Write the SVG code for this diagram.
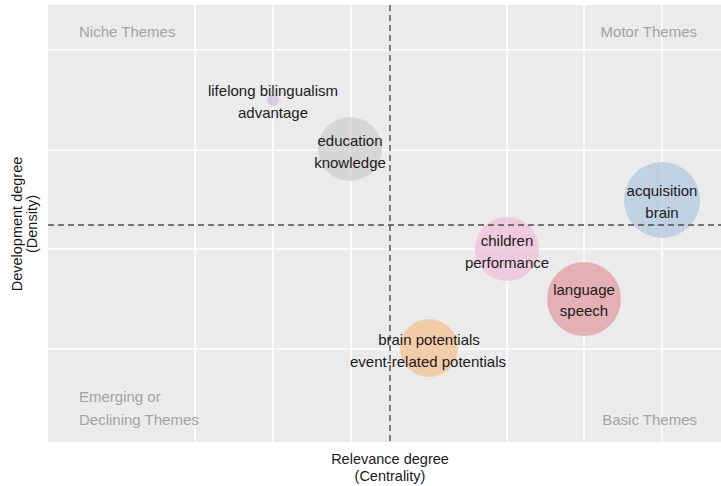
<svg xmlns="http://www.w3.org/2000/svg" width="721" height="486" viewBox="0 0 721 486">
<style>
.grid{stroke:#ffffff;stroke-width:1.5;fill:none}
.ref{stroke:#4d4d4d;stroke-width:1.4;stroke-dasharray:6 4;fill:none}
.lbl{font-family:"Liberation Sans",Arial,sans-serif;font-size:15px;fill:#1a1a1a;text-anchor:middle}
.quad{font-family:"Liberation Sans",Arial,sans-serif;font-size:15px;fill:#a3a3a3}
.axis{font-family:"Liberation Sans",Arial,sans-serif;font-size:14.5px;fill:#1a1a1a;text-anchor:middle}
.bub{fill-opacity:0.85}
</style>
<rect width="721" height="486" fill="#ffffff"/>
<rect x="48" y="5" width="673" height="437" fill="#ebebeb"/>
<g id="grid">
<line class="grid" x1="48" y1="50" x2="721" y2="50"/>
<line class="grid" x1="48" y1="150" x2="721" y2="150"/>
<line class="grid" x1="48" y1="249" x2="721" y2="249"/>
<line class="grid" x1="48" y1="349" x2="721" y2="349"/>
<line class="grid" x1="195" y1="5" x2="195" y2="442"/>
<line class="grid" x1="273" y1="5" x2="273" y2="442"/>
<line class="grid" x1="351" y1="5" x2="351" y2="442"/>
<line class="grid" x1="507" y1="5" x2="507" y2="442"/>
<line class="grid" x1="584" y1="5" x2="584" y2="442"/>
<line class="grid" x1="662" y1="5" x2="662" y2="442"/>
</g>
<g id="quadrant-labels">
<text class="quad" x="79" y="37">Niche Themes</text>
<text class="quad" x="697" y="37" text-anchor="end">Motor Themes</text>
<text class="quad" x="79" y="402">Emerging or</text>
<text class="quad" x="79" y="425">Declining Themes</text>
<text class="quad" x="697" y="425" text-anchor="end">Basic Themes</text>
</g>
<g id="node-lifelong">
<circle class="bub" cx="273" cy="100" r="6" fill="#d6c4e0"/>
</g>
<g id="node-education">
<circle class="bub" cx="350" cy="149" r="32" fill="#d2d2d2"/>
</g>
<g id="node-acquisition">
<circle class="bub" cx="662" cy="200" r="38" fill="#b9cde0"/>
</g>
<g id="node-children">
<circle class="bub" cx="507" cy="249" r="32" fill="#efc4dc"/>
</g>
<g id="node-language">
<circle class="bub" cx="584" cy="299" r="37" fill="#e3a6ac"/>
</g>
<g id="node-brain-potentials">
<circle class="bub" cx="429" cy="348" r="29" fill="#f3c79c"/>
</g>
<g id="connectors">
<line class="ref" x1="48" y1="225" x2="721" y2="225"/>
<line class="ref" x1="390" y1="5" x2="390" y2="442"/>
</g>
<g id="node-labels">
<text class="lbl" x="273" y="96">lifelong bilingualism</text>
<text class="lbl" x="273" y="118">advantage</text>
<text class="lbl" x="350" y="146">education</text>
<text class="lbl" x="350" y="168">knowledge</text>
<text class="lbl" x="662" y="196">acquisition</text>
<text class="lbl" x="662" y="218">brain</text>
<text class="lbl" x="507" y="246">children</text>
<text class="lbl" x="507" y="268">performance</text>
<text class="lbl" x="584" y="295">language</text>
<text class="lbl" x="584" y="316">speech</text>
<text class="lbl" x="429" y="345">brain potentials</text>
<text class="lbl" x="428" y="367">event-related potentials</text>
</g>
<g id="axis-titles">
<text class="axis" x="390" y="464">Relevance degree</text>
<text class="axis" x="390" y="481">(Centrality)</text>
<text class="axis" transform="translate(22,224) rotate(-90)">Development degree</text>
<text class="axis" transform="translate(37,224) rotate(-90)">(Density)</text>
</g>
</svg>
